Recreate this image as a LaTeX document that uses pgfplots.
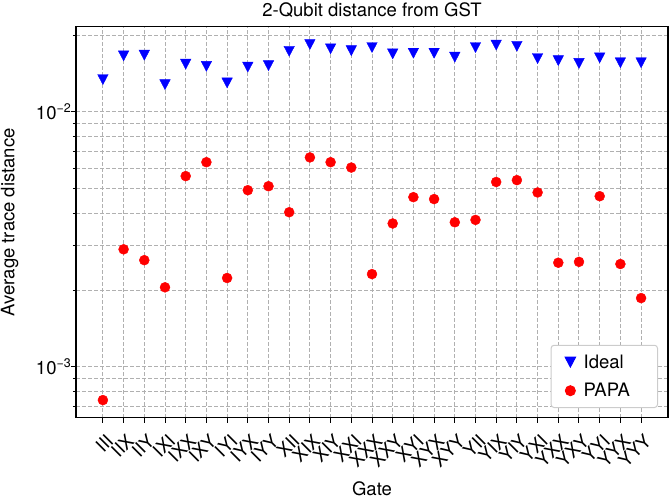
\documentclass[border=0pt]{standalone}
\usepackage{fontspec}
\setmainfont{TeX Gyre Heros}
\usepackage{pgfplots}
\usepackage{pgfplotstable}
\pgfplotsset{compat=1.18}

\definecolor{gridgray}{RGB}{176,176,176}
\definecolor{legframe}{RGB}{204,204,204}
\newcommand{\fs}{\fontsize{18.5bp}{22bp}\selectfont}
\newcommand{\pw}[1]{10\raisebox{6.7bp}{\fontsize{12.5bp}{13bp}\selectfont −#1}}

\pgfdeclareplotmark{tdown}{%
  \pgfpathmoveto{\pgfqpoint{0pt}{-\pgfplotmarksize}}%
  \pgfpathlineto{\pgfqpoint{1.05\pgfplotmarksize}{\pgfplotmarksize}}%
  \pgfpathlineto{\pgfqpoint{-1.05\pgfplotmarksize}{\pgfplotmarksize}}%
  \pgfpathclose\pgfusepathqfillstroke}

\pgfplotstableread{
x ideal papa
0  1.34e-2 7.40e-4
1  1.66e-2 2.89e-3
2  1.67e-2 2.62e-3
3  1.28e-2 2.05e-3
4  1.54e-2 5.60e-3
5  1.51e-2 6.35e-3
6  1.30e-2 2.23e-3
7  1.50e-2 4.93e-3
8  1.52e-2 5.11e-3
9  1.73e-2 4.04e-3
10 1.84e-2 6.63e-3
11 1.77e-2 6.35e-3
12 1.74e-2 6.05e-3
13 1.79e-2 2.31e-3
14 1.69e-2 3.65e-3
15 1.70e-2 4.63e-3
16 1.70e-2 4.55e-3
17 1.64e-2 3.69e-3
18 1.79e-2 3.77e-3
19 1.83e-2 5.31e-3
20 1.81e-2 5.40e-3
21 1.62e-2 4.83e-3
22 1.59e-2 2.56e-3
23 1.55e-2 2.58e-3
24 1.63e-2 4.67e-3
25 1.56e-2 2.53e-3
26 1.56e-2 1.86e-3
}\data

\newcommand{\PP}[2]{([xshift=#1bp-76bp, yshift=26.7bp-#2bp]ax.north west)}

\begin{document}
\begin{tikzpicture}
\begin{axis}[
  name=ax,
  scale only axis,
  width=592bp, height=391bp,
  xmin=-1.3, xmax=27.3,
  ymode=log, ymin=6.31e-4, ymax=2.16e-2,
  xtick={0,...,26},
  xticklabels={III,IIX,IIY,IXI,IXX,IXY,IYI,IYX,IYY,XII,XIX,XIY,XXI,XXX,XXY,XYI,XYX,XYY,YII,YIX,YIY,YXI,YXX,YXY,YYI,YYX,YYY},
  ytick={1e-3,1e-2},
  yticklabels={\pw{3},\pw{2}},
  minor ytick={7e-4,8e-4,9e-4,2e-3,3e-3,4e-3,5e-3,6e-3,7e-3,8e-3,9e-3,2e-2},
  grid=both,
  major grid style={gridgray, line width=1bp, dash pattern=on 4bp off 2bp},
  minor grid style={gridgray, line width=1bp, dash pattern=on 4bp off 2bp},
  tick align=outside,
  tick pos=left,
  major tick length=5bp,
  minor tick length=3bp,
  tick style={black, line width=1bp},
  axis line style={black, line width=1.1bp},
  ticklabel style={font=\fs},
  xticklabel style={yshift=-10bp, xshift=2bp, rotate=45, anchor=north east, inner sep=0pt},
  yticklabel style={anchor=east, inner sep=0pt},
  every axis title shift=0pt,
  title={2-Qubit distance from GST},
  title style={font=\fs, at={(axis description cs:0.5,1.02558)}, anchor=base, inner sep=0pt},
  xlabel={Gate},
  xlabel style={font=\fs, at={(axis description cs:0.5,-0.1982)}, anchor=base, inner sep=0pt},
  ylabel={Average trace distance},
  ylabel style={font=\fs, at={(axis description cs:-0.1039,0.5)}, anchor=base, inner sep=0pt},
  legend style={at={(axis description cs:1,0)}, anchor=south east, xshift=-10bp, yshift=9.7bp,
     draw=legframe, line width=1bp, rounded corners=3bp, fill=white, font=\fs,
     inner xsep=14bp, inner ysep=9.3bp, row sep=13.7bp, column sep=8bp,
     nodes={inner sep=0pt}},
  legend image code/.code={\draw[#1] plot coordinates {(0bp,0bp)};},
  legend cell align=left,
]
\addplot[only marks, mark=tdown, mark size=5bp, draw=blue, fill=blue] table[x=x, y=ideal] {\data};
\addlegendentry{Ideal}
\addplot[only marks, mark=*, mark size=5bp, draw=red, fill=red] table[x=x, y=papa] {\data};
\addlegendentry{PAPA\hspace*{13.5bp}}
\end{axis}
\pgfresetboundingbox
\path[use as bounding box] \PP{0}{0} rectangle \PP{669}{498};
\end{tikzpicture}
\end{document}
